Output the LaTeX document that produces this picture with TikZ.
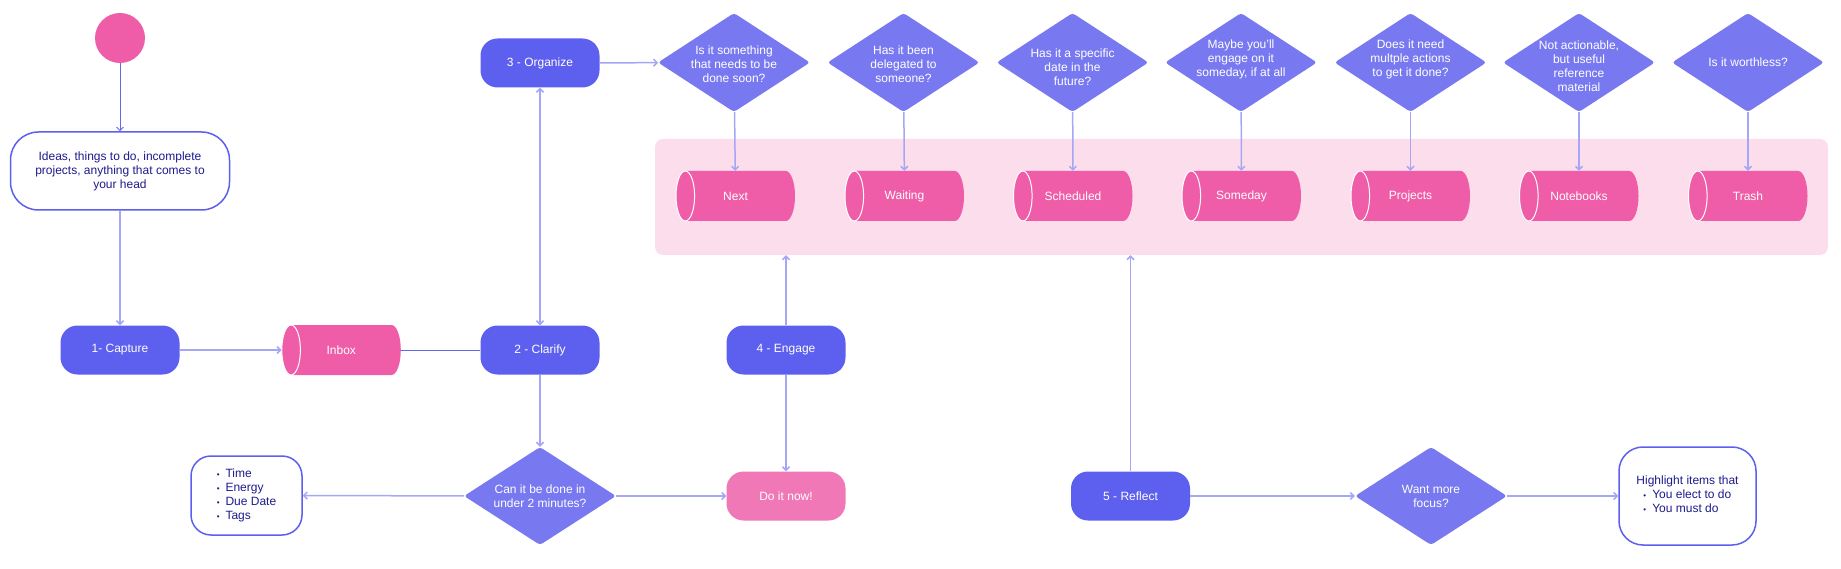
\documentclass[tikz,border=0pt]{standalone}
\usepackage{fontspec}
\setmainfont{Liberation Sans}
\usetikzlibrary{shapes.geometric,arrows.meta}
\definecolor{blueC}{HTML}{5D5FEF}
\definecolor{diaC}{HTML}{7879F1}
\definecolor{pinkC}{HTML}{EF5DA8}
\definecolor{pinkL}{HTML}{F178B6}
\definecolor{bandC}{HTML}{FCDDEC}
\definecolor{lineL}{HTML}{A5A6F6}
\definecolor{lineD}{HTML}{6466EE}
\definecolor{navy}{HTML}{1E1B8C}
\newcommand\fs{\fontsize{12}{14}\selectfont}
\newcommand\smallbul{{\fontsize{8}{14}\selectfont\textbullet}}
\tikzset{
  barb/.tip={Straight Barb[length=3.5pt,width=7pt]},
  proc/.style={rectangle, rounded corners=17pt, fill=blueC, text=white,
    minimum width=119pt, minimum height=49pt, inner sep=0pt, font=\fs},
  whitebox/.style={rectangle, draw=blueC, line width=1.5pt, fill=white, text=navy,
    inner sep=0pt, font=\fs, align=center},
  dia/.style={diamond, fill=diaC, minimum width=152pt, minimum height=99pt,
    inner sep=0pt, rounded corners=3pt},
  dtext/.style={text=white, font=\fs, align=center, inner sep=0pt},
  cyltext/.style={rectangle, minimum width=119pt, minimum height=50pt,
    inner sep=0pt, text=white, font=\fs},
  conn/.style={draw=lineL, line width=1.5pt},
  arr/.style={conn, -barb},
  darkconn/.style={draw=lineD, line width=1pt},
}
% cylinder: name, x, y, text
\newcommand\mycyl[4]{%
  \fill[pinkC] ({#2-50.2},{#3-25}) -- ({#2+50.2},{#3-25})
     arc[start angle=-90, end angle=90, x radius=9.3, y radius=25]
     -- ({#2-50.2},{#3+25})
     arc[start angle=90, end angle=270, x radius=9.3, y radius=25] -- cycle;
  \draw[white, line width=1pt] ({#2-50.2},#3) ellipse[x radius=9.3, y radius=25];
  \node[cyltext] (#1) at (#2,#3) {#4};
}
\begin{document}
\begin{tikzpicture}[x=1pt, y=-1pt]
\useasboundingbox (0,0) rectangle (1841,569);

% band
\node[fill=bandC, rounded corners=8pt, minimum width=1173pt, minimum height=116pt,
  inner sep=0pt] (band) at (1241.5,197) {};

% start
\node[circle, fill=pinkC, minimum size=50pt, inner sep=0pt] (start) at (120,38) {};
\node[whitebox, minimum width=219pt, minimum height=78pt, rounded corners=28pt] (ideas)
  at (120,171) {Ideas, things to do, incomplete\\projects, anything that comes to\\your head};

\node[proc] (capture) at (120,350) {1- Capture};
\mycyl{inbox}{341.3}{350}{Inbox}
\node[proc] (clarify) at (540,350) {2 - Clarify};
\node[proc] (organize) at (540,63) {3 - Organize};
\node[proc] (engage) at (786,350) {4 - Engage};
\node[proc, fill=pinkL] (doit) at (786,496) {Do it now!};
\node[proc] (reflect) at (1130.5,496) {5 - Reflect};

\node[dia, minimum height=98pt, label={[dtext]center:{Can it be done in\\under 2 minutes?}}]
  (twomin) at (540,496) {};
\node[dia, minimum height=98pt, label={[dtext]center:{Want more\\focus?}}]
  (focus) at (1431,496) {};

\node[whitebox, minimum width=111pt, minimum height=79pt, rounded corners=20pt] (attrs)
  at (246.5,495.5) {\begin{tabular}{@{}l@{\hspace{6pt}}l@{}}\smallbul&Time\\\smallbul&Energy\\\smallbul&Due Date\\\smallbul&Tags\end{tabular}};
\node[whitebox, minimum width=137pt, minimum height=98pt, rounded corners=24pt] (highlight)
  at (1687.5,496) {\begin{tabular}{@{}l@{}}Highlight items that\\\hspace{7pt}\smallbul\hspace{6pt}You elect to do\\\hspace{7pt}\smallbul\hspace{6pt}You must do\end{tabular}};

% top decisions
\node[dia, label={[dtext,yshift=-1.5pt]center:{Is it something\\that needs to be\\done soon?}}] (q1) at (734,62.5) {};
\node[dia, label={[dtext,yshift=-1.5pt]center:{Has it been\\delegated to\\someone?}}] (q2) at (903.5,62.5) {};
\node[dia, label={[dtext,yshift=-5pt]center:{Has it a specific\\date in the\\future?}}] (q3) at (1072.5,62.5) {};
\node[dia, label={[dtext,yshift=3.5pt]center:{Maybe you’ll\\engage on it\\someday, if at all}}] (q4) at (1241,62.5) {};
\node[dia, label={[dtext,yshift=3.5pt]center:{Does it need\\multple actions\\to get it done?}}] (q5) at (1410.5,62.5) {};
\node[dia, label={[dtext,yshift=-3.5pt]center:{Not actionable,\\but useful\\reference\\material}}] (q6) at (1579,62.5) {};
\node[dia, label={[dtext]center:{Is it worthless?}}] (q7) at (1748,62.5) {};

% lists
\mycyl{next}{735.5}{196}{Next}
\mycyl{waiting}{904.5}{196}{Waiting}
\mycyl{scheduled}{1073}{196}{Scheduled}
\mycyl{someday}{1241.5}{196}{Someday}
\mycyl{projects}{1410.5}{196}{Projects}
\mycyl{notebooks}{1579}{196}{Notebooks}
\mycyl{trash}{1748}{196}{Trash}

% connectors
\draw[darkconn, -barb] (start) -- (ideas);
\draw[arr] (ideas) -- (capture);
\draw[arr] (capture) -- (inbox);
\draw[darkconn] (inbox) -- (clarify);
\draw[conn, barb-barb] (clarify) -- (organize);
\draw[arr] (organize) -- (q1);
\draw[arr] (clarify) -- (twomin);
\draw[arr] (twomin) -- (attrs);
\draw[arr] (twomin) -- (doit);
\draw[arr] (engage) -- (doit);
\draw[arr] (engage.north) -- (engage.north |- band.south);
\draw[arr] (reflect.north) -- (reflect.north |- band.south);
\draw[arr] (reflect) -- (focus);
\draw[arr] (focus) -- (highlight);
\draw[arr] (q1) -- (next);
\draw[arr] (q2) -- (waiting);
\draw[arr] (q3) -- (scheduled);
\draw[arr] (q4) -- (someday);
\draw[arr] (q5) -- (projects);
\draw[arr] (q6) -- (notebooks);
\draw[arr] (q7) -- (trash);
\end{tikzpicture}
\end{document}
